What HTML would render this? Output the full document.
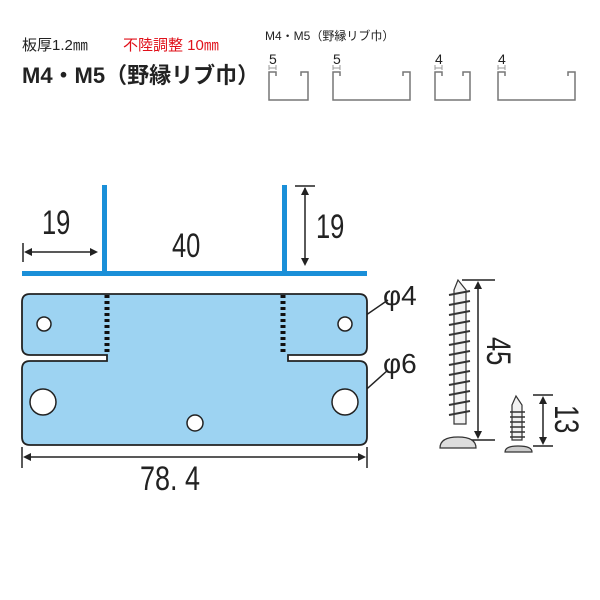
<!DOCTYPE html>
<html><head><meta charset="utf-8"><style>
body{margin:0;background:#fff}
svg{display:block}
text{font-family:"Liberation Sans","Noto Sans CJK JP",sans-serif}
</style></head><body>
<svg width="600" height="600" viewBox="0 0 600 600" xmlns="http://www.w3.org/2000/svg">
<text x="22" y="50" font-size="15" fill="#222">板厚1.2㎜</text>
<text x="123" y="50" font-size="15" fill="#e0101a">不陸調整 10㎜</text>
<text x="22" y="83" font-size="22" font-weight="bold" fill="#222">M4・M5（野縁リブ巾）</text>
<text x="265" y="40" font-size="12" fill="#222">M4・M5（野縁リブ巾）</text>
<g fill="none" stroke="#777" stroke-width="1.5">
<path d="M276,76 V72 H269 V100 H308 V72 H301 V76"/>
<path d="M340,76 V72 H333 V100 H410 V72 H403 V76"/>
<path d="M442,76 V72 H435 V100 H470 V72 H463 V76"/>
<path d="M505,76 V72 H498 V100 H575 V72 H568 V76"/>
</g>
<g fill="none" stroke="#999" stroke-width="1">
<path d="M269,65 V70 M276,65 V70 M269,68 H276"/>
<path d="M333,65 V70 M340,65 V70 M333,68 H340"/>
<path d="M435,65 V70 M442,65 V70 M435,68 H442"/>
<path d="M498,65 V70 M505,65 V70 M498,68 H505"/>
</g>
<g font-size="14" fill="#222"><text x="269" y="64">5</text><text x="333" y="64">5</text><text x="435" y="64">4</text><text x="498" y="64">4</text></g>
<g fill="#1a8fd8">
<rect x="102" y="185" width="5" height="90"/>
<rect x="282" y="185" width="5" height="90"/>
<rect x="22" y="271" width="345" height="5"/>
</g>
<g stroke="#222" stroke-width="1.5" fill="none">
<line x1="23" y1="243" x2="23" y2="262"/>
<line x1="26" y1="252" x2="96" y2="252"/>
<line x1="295" y1="186" x2="315" y2="186"/>
<line x1="305" y1="188" x2="305" y2="264"/>
<line x1="22" y1="447" x2="22" y2="468"/>
<line x1="367" y1="447" x2="367" y2="468"/>
<line x1="25" y1="457" x2="364" y2="457"/>
<line x1="388" y1="300" x2="356" y2="322"/>
<line x1="388" y1="370" x2="359" y2="396"/>
<line x1="462" y1="280" x2="495" y2="280"/>
<line x1="478" y1="283" x2="478" y2="437"/>
<line x1="463" y1="440" x2="495" y2="440"/>
<line x1="533" y1="395" x2="553" y2="395"/>
<line x1="543" y1="398" x2="543" y2="443"/>
<line x1="533" y1="446" x2="553" y2="446"/>
</g>
<g fill="#222">
<path d="M24,252 l8,-4 v8z"/><path d="M98,252 l-8,-4 v8z"/>
<path d="M305,187 l-4,8 h8z"/><path d="M305,266 l-4,-8 h8z"/>
<path d="M23,457 l8,-4 v8z"/><path d="M366,457 l-8,-4 v8z"/>
<path d="M355,323 l3,-8 l4,5z"/><path d="M358,397 l2,-8 l4,5z"/>
<path d="M478,281 l-4,8 h8z"/><path d="M478,439 l-4,-8 h8z"/>
<path d="M543,396 l-4,8 h8z"/><path d="M543,445 l-4,-8 h8z"/>
</g>
<g fill="#222" font-size="30">
<text transform="translate(42,234) scale(0.85,1.15)">19</text>
<text transform="translate(172,257) scale(0.85,1.15)">40</text>
<text transform="translate(316,238) scale(0.85,1.15)">19</text>
<text transform="translate(140,490) scale(0.9,1.15)">78. 4</text>
<text x="383" y="305" font-size="28">φ4</text>
<text x="383" y="373" font-size="28">φ6</text>
<text transform="translate(487,337) rotate(90) scale(0.85,1.15)">45</text>
<text transform="translate(555,405) rotate(90) scale(0.85,1.15)">13</text>
</g>
<path d="M30,294 H359 Q367,294 367,302 V347 Q367,355 359,355 H288 V361 H359 Q367,361 367,369 V437 Q367,445 359,445 H30 Q22,445 22,437 V369 Q22,361 30,361 H107 V355 H30 Q22,355 22,347 V302 Q22,294 30,294 Z" fill="#9dd3f2" stroke="#222" stroke-width="1.8"/>
<g fill="#fff" stroke="#222" stroke-width="1.5">
<circle cx="44" cy="324" r="7"/><circle cx="345" cy="324" r="7"/>
<circle cx="43" cy="402" r="13"/><circle cx="345" cy="402" r="13"/>
<circle cx="195" cy="423" r="8"/>
</g>
<g stroke="#111" stroke-width="5" stroke-dasharray="3,3">
<line x1="107" y1="295" x2="107" y2="355"/>
<line x1="283" y1="295" x2="283" y2="355"/>
</g>
<g stroke="#333" stroke-width="1.2" fill="#f2f2f2">
<path d="M458,280 L454,290 V424 H466 V290 Z"/>
<path d="M440,448 Q440,437 458,437 Q476,437 476,448 Z" fill="#ddd"/>
<path d="M505,452 Q505,446 518,446 Q532,446 532,452 Z" fill="#ccc"/>
<path d="M516,396 L512,405 V440 H522 V405 Z"/>
</g>
<g stroke="#333" stroke-width="2" fill="none">
<path d="M449,295 L470,291 M449,305 L470,301 M449,315 L470,311 M449,325 L470,321 M449,335 L470,331 M449,345 L470,341 M449,355 L470,351 M449,365 L470,361 M449,375 L470,371 M449,385 L470,381 M449,395 L470,391 M449,405 L470,401 M449,415 L470,411"/>
<path d="M510,412 H525 M510,417 H525 M510,422 H525 M510,427 H525 M510,432 H525 M510,437 H525" stroke-width="1.5"/>
</g>
</svg>
</body></html>
